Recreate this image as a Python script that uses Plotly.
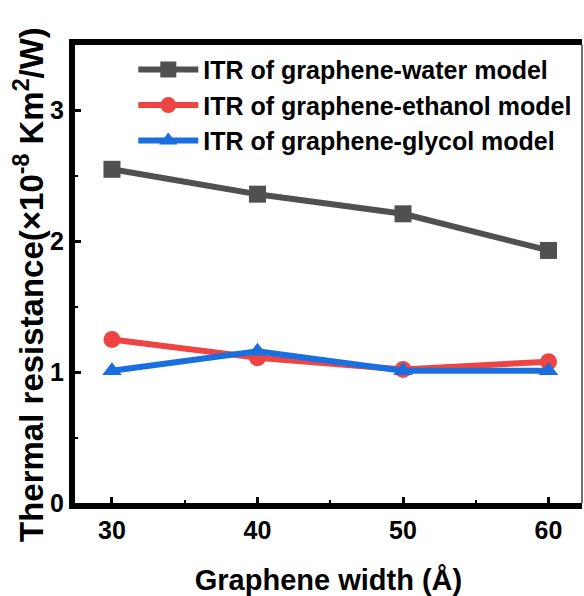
import plotly.graph_objects as go

widths = [30, 40, 50, 60]
water = [2.55, 2.36, 2.21, 1.93]
ethanol = [1.25, 1.11, 1.02, 1.08]
glycol = [1.01, 1.16, 1.01, 1.01]
names = ["ITR of graphene-water model", "ITR of graphene-ethanol model", "ITR of graphene-glycol model"]
colors = ["#505050", "#ef4444", "#1a6fe0"]
symbols = ["square", "circle", "triangle-up"]
y_title = "Thermal resistance(×10<sup>-8</sup> Km<sup>2</sup>/W)"
x_title = "Graphene width (Å)"

fig = go.Figure()
for ys, nm, c, s in zip([water, ethanol, glycol], names, colors, symbols):
    fig.add_trace(go.Scatter(x=widths, y=ys, name="<b>" + nm + "</b>", mode="lines+markers",
                             line=dict(color=c, width=6),
                             marker=dict(color=c, symbol=s, size=17)))

fam = "Liberation Sans, Arial"
tick_font = dict(family=fam, size=25, color="black", weight="bold")
fig.update_layout(
    width=584, height=596,
    margin=dict(l=75, r=2, t=45, b=91),
    plot_bgcolor="white", paper_bgcolor="white",
    font=dict(family=fam, size=22, color="black", weight="bold"),
    showlegend=True,
    legend=dict(x=0.115, y=0.996, xanchor="left", yanchor="top",
                bgcolor="rgba(0,0,0,0)", font=dict(size=25, weight="bold"),
                itemwidth=60, tracegroupgap=0),
    xaxis=dict(range=[27.46, 62.3], tickvals=widths, ticktext=["<b>%d</b>" % w for w in widths],
               tickfont=tick_font, ticks="inside", ticklen=6,
               tickwidth=3, tickcolor="black", showline=True, linewidth=6,
               linecolor="black", mirror=True, showgrid=False, zeroline=False,
               minor=dict(ticks="inside", ticklen=3, tickwidth=2, dtick=5, tick0=0, tickcolor="black"),
               title=dict(text="<b>" + x_title + "</b>", font=dict(size=29, weight="bold"), standoff=30)),
    yaxis=dict(range=[0, 3.5], tickvals=[0, 1, 2, 3], ticktext=["<b>%d</b>" % v for v in [0, 1, 2, 3]],
               tickfont=tick_font, ticks="inside", ticklen=6,
               tickwidth=3, tickcolor="black", showline=True, linewidth=6,
               linecolor="black", showgrid=False, zeroline=False,
               minor=dict(ticks="inside", ticklen=3, tickwidth=2, dtick=0.5, tick0=0, tickcolor="black")),
)
fig.add_annotation(text="<b>" + y_title + "</b>", textangle=-90, xref="paper", yref="paper",
                   x=0, y=0.5, xanchor="center", yanchor="middle", xshift=-46, yshift=-11,
                   showarrow=False, font=dict(family=fam, size=33, color="black", weight="bold"))
fig.add_shape(type="line", xref="paper", yref="paper", x0=1, x1=1, y0=0, y1=1,
              line=dict(color="#444", width=1.5))
fig.write_html("out.html")
